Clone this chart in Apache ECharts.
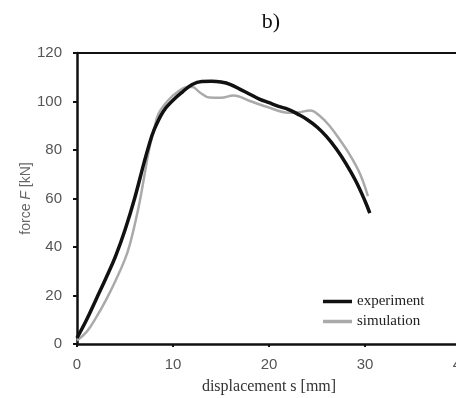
<!DOCTYPE html>
<html>
<head>
<meta charset="utf-8">
<script src="https://cdn.jsdelivr.net/npm/echarts@6/dist/echarts.min.js"></script>
<style>html,body{margin:0;padding:0;background:#fff}#c{width:456px;height:398px}</style>
</head>
<body>
<div id="c"></div>
<script>
// displacement [mm], force [kN]
var expX = [0, 1, 2, 3, 4, 5, 6, 7, 7.5, 8, 9, 10, 11, 12, 13, 14, 15, 16, 17, 18, 19, 20, 21, 22, 23, 24, 25, 26, 27, 28, 29, 30, 30.5];
var expY = [2.5, 10, 18.5, 27, 36, 47, 60, 75, 82, 88, 96, 100.5, 104, 107, 108.2, 108.3, 108, 107, 105, 103, 101, 99.5, 98, 96.8, 94.8, 92.5, 89.5, 85.5, 80.5, 74.5, 67.5, 59, 54];
var simX = [0, 1, 2, 3, 4, 5, 5.5, 6, 6.5, 7, 7.5, 8, 8.5, 9.5, 10.5, 11.5, 12, 12.8, 13.8, 15, 16.3, 18, 20, 22, 23, 24.3, 25.3, 26.3, 27.5, 28.5, 29.5, 30.3];
var simY = [1.5, 5, 11, 18, 26, 35, 41, 49, 58, 69, 80, 88, 95, 100.5, 104, 106, 106, 103.7, 101.6, 101.5, 102.5, 100.2, 97.5, 95.4, 95.5, 96.3, 94, 90, 83.5, 77.5, 70, 61];
var xTicks = [0, 10, 20, 30, 40];
var yTicks = [0, 20, 40, 60, 80, 100, 120];

function pairs(xs, ys) { return xs.map(function (x, i) { return [x, ys[i]]; }); }

var chart = echarts.init(document.getElementById('c'));
chart.setOption({
  backgroundColor: '#fff',
  animation: false,
  title: {
    text: 'b)', left: 266, top: 6, textAlign: 'center',
    textStyle: { fontFamily: 'Liberation Serif', fontSize: 22, fontWeight: 'normal', color: '#111' }
  },
  grid: { left: 77, right: -5, top: 53, bottom: 54, outerBoundsMode: 'none', containLabel: false },
  legend: {
    orient: 'vertical', left: 318, top: 289, itemGap: 5, itemWidth: 29, itemHeight: 3.5,
    icon: 'rect',
    textStyle: { fontFamily: 'Liberation Serif', fontSize: 15, color: '#222', padding: [0, 0, 0, 0] },
    data: ['experiment', 'simulation']
  },
  xAxis: [{
    type: 'value', min: xTicks[0], max: xTicks[xTicks.length - 1], interval: 10,
    name: 'displacement s [mm]', nameLocation: 'middle', nameGap: 35,
    nameTextStyle: { fontFamily: 'Liberation Serif', fontSize: 16, color: '#333' },
    axisLine: { lineStyle: { color: '#111', width: 2.5 } },
    axisTick: { show: true, length: 3, lineStyle: { color: '#111', width: 2 } },
    axisLabel: { fontFamily: 'Liberation Sans', fontSize: 15, color: '#555', margin: 13 },
    splitLine: { show: false }
  }, {
    type: 'value', position: 'top', min: 0, max: 40,
    axisLine: { show: true, onZero: false, lineStyle: { color: '#111', width: 2 } },
    axisTick: { show: false }, axisLabel: { show: false }, splitLine: { show: false }
  }],
  yAxis: {
    type: 'value', min: yTicks[0], max: yTicks[yTicks.length - 1], interval: 20,
    name: 'force {i|F} [kN]', nameLocation: 'middle', nameGap: 44, nameRotate: 90,
    nameMoveOverlap: false,
    nameTextStyle: {
      fontFamily: 'Liberation Sans', fontSize: 14, color: '#666',
      rich: { i: { fontFamily: 'Liberation Sans', fontSize: 14, fontStyle: 'italic', color: '#666' } }
    },
    axisLine: { show: true, lineStyle: { color: '#111', width: 2.5 } },
    axisTick: { show: true, length: 4, lineStyle: { color: '#111', width: 2 } },
    axisLabel: { fontFamily: 'Liberation Sans', fontSize: 15, color: '#555', margin: 15 },
    splitLine: { show: false }
  },
  series: [{
    name: 'experiment', type: 'line', smooth: 0.4, symbol: 'none', z: 3,
    data: pairs(expX, expY),
    lineStyle: { color: '#111', width: 3.5 }, itemStyle: { color: '#111' }
  }, {
    name: 'simulation', type: 'line', smooth: 0.4, symbol: 'none', z: 2,
    data: pairs(simX, simY),
    lineStyle: { color: '#aaa', width: 2.5 }, itemStyle: { color: '#aaa' }
  }]
});
</script>
</body>
</html>
